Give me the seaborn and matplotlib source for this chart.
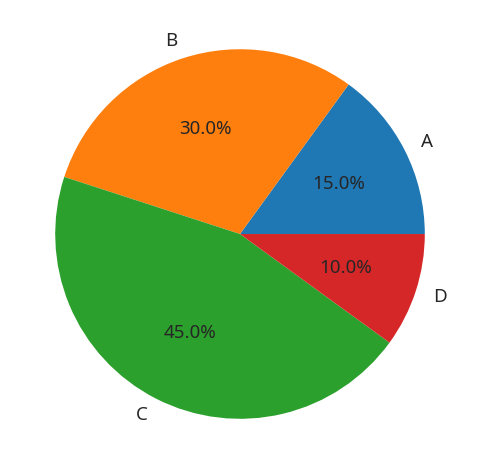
import matplotlib
matplotlib.use("Agg")
import matplotlib.pyplot as plt
import seaborn as sns

categories = ["A", "B", "C", "D"]
values = [15, 30, 45, 10]

sns.set_theme(style="white")
plt.rcParams['font.family'] = ['Noto Sans', 'DejaVu Sans']

colors = sns.color_palette("tab10", 4)

fig = plt.figure(figsize=(4.79, 4.73), dpi=100)
ax = fig.add_axes([0.0188, 0.0169, 0.9645, 0.9767])
wedges, texts, autotexts = ax.pie(values, labels=categories, colors=colors,
                                  autopct='%1.1f%%', startangle=0,
                                  wedgeprops={'linewidth': 0},
                                  textprops={'fontsize': 13.5, 'color': '#262626'})
ax.set_aspect('equal')
fig.savefig("out.png", dpi=100)
